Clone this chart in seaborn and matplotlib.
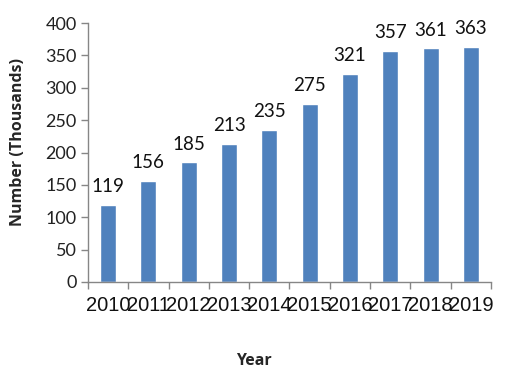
import matplotlib

matplotlib.use("Agg")

import matplotlib.pyplot as plt
import numpy as np
import pandas as pd
import seaborn as sns

years = ["2010", "2011", "2012", "2013", "2014", "2015", "2016", "2017", "2018", "2019"]
numbers = [119, 156, 185, 213, 235, 275, 321, 357, 361, 363]

sns.set_theme(style="white")
plt.rcParams["font.family"] = ["Lato", "DejaVu Sans"]

data_frame = pd.DataFrame({"Year": years, "Number": numbers})

fig = plt.figure(figsize=(5.11, 3.72), dpi=100)
ax = fig.add_axes([0.172, 0.242, 0.789, 0.696])
sns.barplot(data=data_frame, x="Year", y="Number", color="#4F81BD", width=0.4, saturation=1, ax=ax)

ax.set_ylim(0, 400)
ax.set_xlim(-0.5, len(years) - 0.5)
ax.set_yticks(np.arange(0, 401, 50))
ax.tick_params(axis="y", labelsize=13, length=5, width=1, color="#868686", left=True, pad=3, labelcolor="#222222")

# category boundaries carry the tick marks, labels sit at centres
ax.set_xticks(np.arange(-0.5, len(years), 1))
ax.set_xticklabels([])
ax.tick_params(axis="x", which="major", length=5, width=1, color="#868686", bottom=True)
ax.set_xticks(np.arange(len(years)), minor=True)
ax.set_xticklabels(years, minor=True, fontsize=14.5, family=["Liberation Sans", "DejaVu Sans"])
ax.tick_params(axis="x", which="minor", length=0, pad=10, labelcolor="#111111")

for side in ["top", "right"]:
    ax.spines[side].set_visible(False)
for side in ["left", "bottom"]:
    ax.spines[side].set_color("#868686")
    ax.spines[side].set_linewidth(1)

ax.bar_label(ax.containers[0], labels=[str(v) for v in numbers], padding=7, fontsize=13.5, color="#111111")

ax.set_ylabel("Number (Thousands)", fontsize=11.5, fontweight="bold", family=["Open Sans", "DejaVu Sans"])
ax.set_xlabel("Year", fontsize=11.5, fontweight="bold", family=["Open Sans", "DejaVu Sans"])
ax.yaxis.set_label_coords(-0.1535, 0.541)
ax.xaxis.set_label_coords(0.412, -0.274)

fig.savefig("out.png", dpi=100)
